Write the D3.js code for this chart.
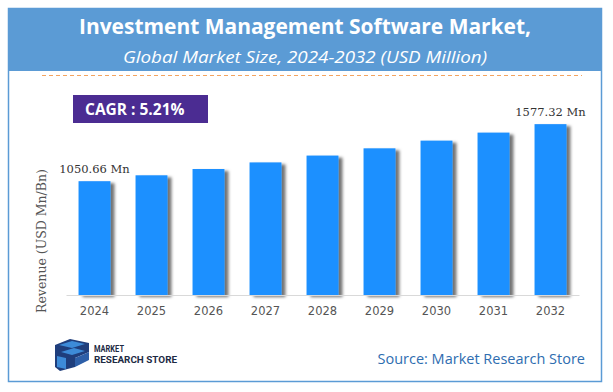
<!DOCTYPE html>
<html><head><meta charset="utf-8">
<script src="https://cdn.jsdelivr.net/npm/d3@7"></script>
<style>body{margin:0;background:#fff}svg{display:block}</style>
</head><body>
<script>
const years = ["2024","2025","2026","2027","2028","2029","2030","2031","2032"];
const revenue = [1050.66, 1105, 1163, 1224, 1287, 1354, 1425, 1499, 1577.32];
const labels = ["1050.66 Mn","","","","","","","","1577.32 Mn"];
const titleText = "Investment Management Software Market,";
const subtitleText = "Global Market Size, 2024-2032 (USD Million)";
const cagrText = "CAGR :  5.21%";
const yAxisTitle = "Revenue (USD Mn/Bn)";
const sourceText = "Source: Market Research Store";

const W = 613, H = 392;
const svg = d3.select("body").append("svg").attr("width", W).attr("height", H);
const defs = svg.append("defs");
const f = defs.append("filter").attr("id","sh").attr("x","-20%").attr("y","-10%").attr("width","160%").attr("height","130%");
f.append("feDropShadow").attr("dx",4).attr("dy",2).attr("stdDeviation",1.6).attr("flood-color","#000").attr("flood-opacity",0.55);

// frame + header
svg.append("rect").attr("x",8.5).attr("y",8.5).attr("width",593).attr("height",373)
  .attr("fill","#fff").attr("stroke","#5B9BD5").attr("stroke-width",1.5);
svg.append("rect").attr("x",8).attr("y",8).attr("width",594).attr("height",63).attr("fill","#5B9BD5");
svg.append("text").attr("x",305).attr("y",34).attr("text-anchor","middle")
  .attr("font-family","Open Sans").attr("font-weight","bold").attr("font-size",22)
  .attr("fill","#fff").attr("textLength",452).attr("lengthAdjust","spacingAndGlyphs").text(titleText);
svg.append("text").attr("x",305).attr("y",63).attr("text-anchor","middle")
  .attr("font-family","Open Sans").attr("font-style","italic").attr("font-size",17)
  .attr("fill","#fff").attr("textLength",364).attr("lengthAdjust","spacingAndGlyphs").text(subtitleText);
svg.append("line").attr("x1",42).attr("x2",582).attr("y1",75.5).attr("y2",75.5)
  .attr("stroke","#F4A460").attr("stroke-width",1.2).attr("stroke-dasharray","4,3");

// CAGR box
svg.append("rect").attr("x",73).attr("y",95).attr("width",135).attr("height",28).attr("fill","#4B2C92");
svg.append("text").attr("x",85).attr("y",114.5).attr("font-family","Open Sans").attr("font-weight","bold")
  .attr("font-size",15.5).attr("fill","#fff").text(cagrText);

// scales
const x = d3.scaleBand().domain(years).range([66,579]).paddingInner(0.44).paddingOuter(0.22);
const y = d3.scaleLinear().domain([0, 1800]).range([295, 100]);

svg.append("g").selectAll("rect").data(revenue).join("rect")
  .attr("x",(d,i)=>x(years[i])).attr("y",d=>y(d)).attr("width",x.bandwidth())
  .attr("height",d=>y(0)-y(d)).attr("fill","#1E90FF").attr("filter","url(#sh)");

svg.append("g").selectAll("text").data(revenue).join("text")
  .attr("x",(d,i)=>x(years[i])+x.bandwidth()/2).attr("y",d=>y(d)-8)
  .attr("text-anchor","middle").attr("font-family","DejaVu Serif").attr("font-size",11.5)
  .attr("fill","#333").text((d,i)=>labels[i]);

// x axis
const xa = svg.append("g").attr("transform","translate(0,295)").call(d3.axisBottom(x).tickSize(0).tickPadding(12));
xa.select(".domain").attr("stroke","#D9D9D9").attr("stroke-width",1.2);
xa.selectAll("text").attr("font-family","DejaVu Sans").attr("font-size",11.5).attr("fill","#555");

svg.append("text").attr("transform","translate(46,241) rotate(-90)").attr("text-anchor","middle")
  .attr("font-family","DejaVu Serif").attr("font-size",12.5).attr("fill","#555").text(yAxisTitle);

// source
svg.append("text").attr("x",585).attr("y",364).attr("text-anchor","end").attr("font-family","Open Sans")
  .attr("font-size",14.5).attr("fill","#2E6DB0").text(sourceText);

// logo
const lg = svg.append("g");
lg.append("path").attr("d","M55,345 L70,339 L89,343 L89,352 L75,358 L75,367 L60,371 L55,367 Z").attr("fill","#1F3E7C");
lg.append("path").attr("d","M59,345 L72,341 L85,344 L72,348 Z").attr("fill","#3D8BD8");
lg.append("path").attr("d","M61,352 L74,348 L85,351 L72,355 Z").attr("fill","#3D8BD8");
lg.append("path").attr("d","M75,358 L89,352 L89,360 L75,367 Z").attr("fill","#2D5FA8");
lg.append("path").attr("d","M57,356 L66,358 L66,369 L57,367 Z").attr("fill","#3D8BD8");
lg.append("text").attr("x",94).attr("y",352).attr("font-family","Liberation Sans Narrow, Roboto").attr("font-weight","bold")
  .attr("font-size",9.5).attr("fill","#1d2a44").attr("textLength",30).attr("lengthAdjust","spacingAndGlyphs").text("MARKET");
lg.append("text").attr("x",94).attr("y",363).attr("font-family","Liberation Sans Narrow, Roboto").attr("font-weight","bold")
  .attr("font-size",9.5).attr("fill","#1d2a44").attr("textLength",83).attr("lengthAdjust","spacingAndGlyphs").text("RESEARCH STORE");
</script>
</body></html>
